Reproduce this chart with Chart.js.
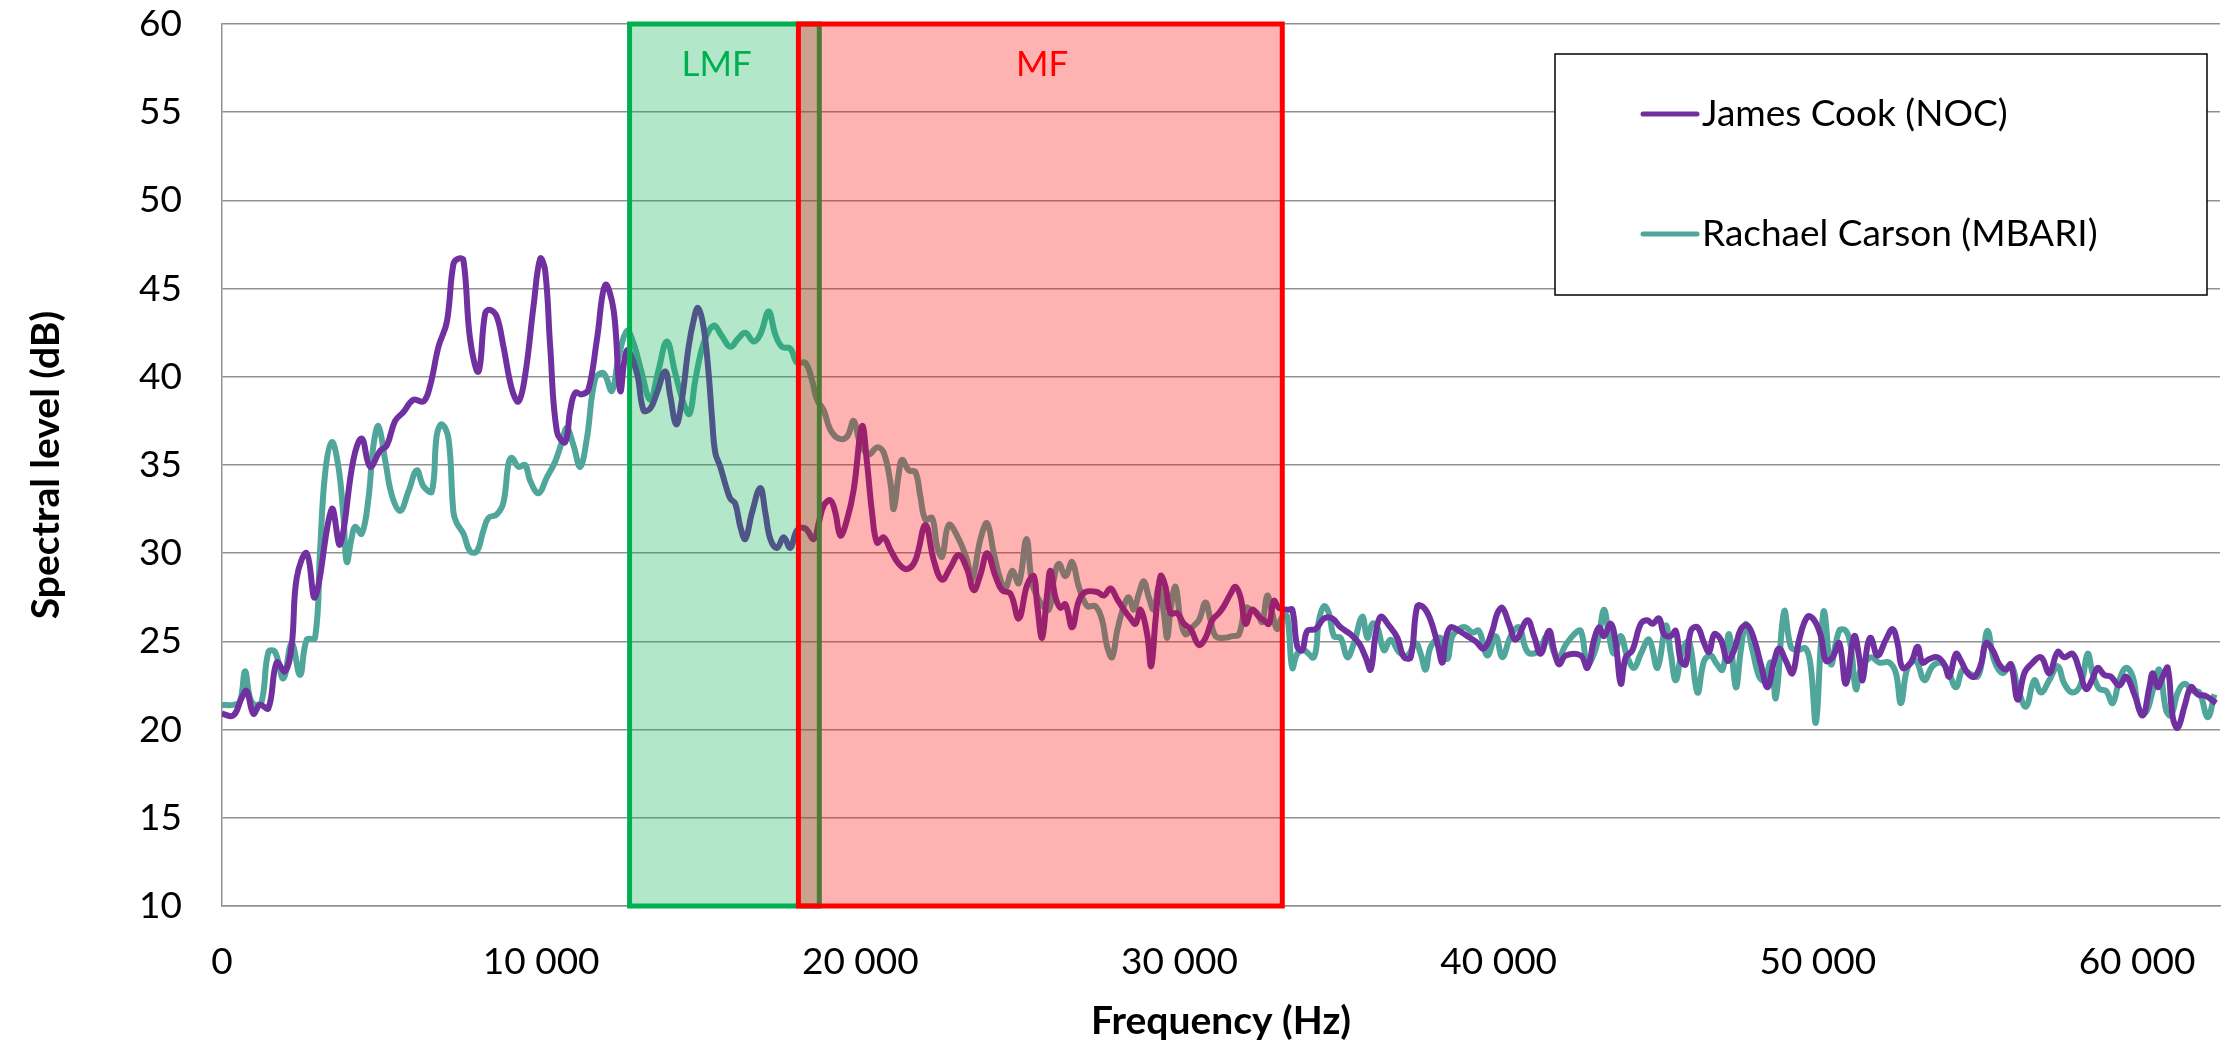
<!DOCTYPE html>
<html>
<head>
<meta charset="utf-8">
<script src="https://cdn.jsdelivr.net/npm/chart.js@4/dist/chart.umd.min.js"></script>
<style>
  html, body { margin: 0; padding: 0; background: #fff; }
  canvas { display: block; }
</style>
</head>
<body>
<canvas id="chart" width="2233" height="1051" style="width:2233px;height:1051px"></canvas>
<script>
// James Cook (NOC) spectrum
const jamesCookFreq = [
  0, 355, 617, 773, 982, 1191, 1453, 1714, 1975, 2184, 2341, 2654, 2916, 3438, 3699,
  4117, 4379, 4640, 4953, 5162, 5424, 5685, 5998, 6312, 6521, 6782, 7043, 7252, 7409, 7566,
  7775, 8036, 8245, 8402, 8611, 8820, 9081, 9290, 9499, 9760, 9969, 10126, 10283, 10492, 10753,
  10910, 11067, 11276, 11485, 11746, 12007, 12268, 12477, 12686, 13000, 13209, 13418, 13627, 13888, 14045,
  14233, 14410, 14619, 14776, 14912, 15090, 15246, 15351, 15455, 15612, 15821, 15926, 16082, 16239, 16396,
  16605, 16866, 17023, 17180, 17389, 17598, 17807, 18016, 18277, 18538, 18695, 18852, 19061, 19217, 19374,
  19583, 19792, 20053, 20210, 20367, 20524, 20733, 20942, 21203, 21464, 21725, 22039, 22300, 22561, 22823,
  23084, 23345, 23554, 23763, 23972, 24233, 24442, 24704, 24965, 25226, 25434, 25539, 25695, 25852, 25957,
  26113, 26270, 26427, 26636, 26845, 27054, 27420, 27629, 27838, 28047, 28256, 28465, 28621, 28778, 28987,
  29112, 29248, 29405, 29562, 29719, 29928, 30137, 30346, 30607, 30816, 31025, 31234, 31391, 31600, 31756,
  31913, 32070, 32279, 32488, 32645, 32801, 32958, 33115, 33376, 33533, 33690, 33846, 34003, 34264, 34526,
  34787, 35048, 35362, 35623, 35832, 35989, 36145, 36302, 36563, 36825, 37034, 37243, 37451, 37660, 37869,
  38079, 38235, 38338, 38495, 38756, 39018, 39279, 39540, 39801, 39958, 40115, 40324, 40533, 40899, 41108,
  41317, 41578, 41735, 41891, 42100, 42571, 42780, 42989, 43145, 43302, 43511, 43668, 43825, 43981, 44190,
  44452, 44661, 44817, 45026, 45183, 45392, 45549, 45706, 45862, 46019, 46228, 46437, 46594, 46751, 46960,
  47169, 47378, 47587, 47796, 48005, 48214, 48423, 48632, 48788, 48997, 49206, 49415, 49677, 49886, 50095,
  50251, 50460, 50669, 50878, 51139, 51296, 51400, 51557, 51662, 51871, 52132, 52341, 52498, 52654, 52916,
  53125, 53281, 53490, 53751, 53960, 54117, 54326, 54483, 54692, 54901, 55110, 55267, 55476, 55685, 55894,
  56051, 56260, 56469, 56678, 56991, 57252, 57514, 57723, 57982, 58193, 58402, 58611, 58768, 58977, 59186,
  59447, 59656, 59917, 60178, 60387, 60492, 60649, 60805, 60962, 61119, 61276, 61485, 61694, 61903, 62164,
  62477
];
const jamesCookLevel = [
  20.9, 20.8, 21.8, 22.2, 20.9, 21.4, 21.2, 23.8, 23.3, 24.8, 28.6, 30.0, 27.5, 32.5, 30.5,
  35.3, 36.5, 34.9, 35.8, 36.1, 37.5, 38.0, 38.7, 38.6, 39.5, 41.7, 43.1, 46.4, 46.7, 46.6,
  42.1, 40.3, 43.6, 43.8, 43.4, 41.7, 39.3, 38.6, 40.1, 44.0, 46.7, 46.0, 41.7, 36.9, 36.3,
  38.1, 39.1, 39.0, 39.3, 42.1, 45.2, 43.8, 39.2, 41.5, 40.2, 38.1, 38.2, 39.1, 40.3, 38.9,
  37.3, 38.7, 41.7, 43.2, 43.9, 42.8, 40.2, 37.7, 35.7, 34.9, 33.6, 33.1, 32.8, 31.5, 30.8,
  32.3, 33.7, 32.3, 30.8, 30.3, 30.9, 30.3, 31.3, 31.4, 30.8, 31.7, 32.7, 33.0, 32.3, 31.0,
  31.9, 33.6, 37.2, 35.1, 32.3, 30.6, 30.9, 30.2, 29.4, 29.1, 29.6, 31.6, 29.6, 28.5, 29.2,
  29.9, 29.1, 27.9, 28.8, 30.0, 28.7, 27.9, 27.7, 26.3, 28.2, 28.7, 27.1, 25.2, 27.7, 29.0,
  27.5, 26.9, 27.1, 25.8, 27.3, 27.8, 27.8, 27.6, 28.0, 27.4, 26.8, 26.3, 26.0, 26.8, 25.4,
  23.6, 26.2, 28.7, 28.1, 26.6, 26.6, 26.0, 25.7, 24.8, 25.2, 26.2, 26.6, 27.0, 27.7, 28.1,
  27.5, 26.0, 26.8, 26.4, 26.2, 26.0, 27.3, 26.9, 26.8, 26.8, 24.7, 24.5, 25.6, 25.7, 26.3,
  26.3, 25.8, 25.4, 24.9, 24.1, 23.4, 25.4, 26.4, 25.9, 25.2, 24.1, 24.1, 27.0, 26.9, 26.2,
  24.9, 23.8, 25.1, 25.8, 25.6, 25.3, 25.0, 24.6, 25.6, 26.6, 26.9, 26.0, 25.1, 26.2, 25.3,
  24.3, 25.6, 24.5, 23.7, 24.2, 24.2, 23.5, 25.1, 25.8, 25.3, 26.0, 24.9, 22.6, 24.1, 24.5,
  26.0, 26.2, 26.0, 26.3, 25.4, 25.3, 25.6, 23.9, 23.7, 25.6, 25.8, 24.9, 24.4, 25.4, 25.1,
  23.9, 24.5, 25.7, 25.9, 25.1, 23.7, 22.4, 23.9, 24.6, 23.9, 23.2, 25.1, 26.4, 26.2, 25.3,
  23.9, 24.1, 24.9, 22.6, 25.3, 24.1, 22.8, 24.8, 25.2, 24.2, 25.1, 25.7, 24.9, 23.5, 23.8,
  24.7, 23.8, 24.0, 24.1, 23.7, 23.0, 24.3, 23.9, 23.2, 23.0, 23.7, 24.9, 24.5, 23.7, 23.4,
  23.7, 21.7, 23.2, 23.7, 24.1, 23.2, 24.4, 24.1, 24.3, 23.4, 22.3, 22.9, 23.5, 23.1, 23.0,
  22.5, 23.0, 22.0, 20.8, 22.4, 23.2, 22.4, 23.0, 23.5, 20.7, 20.1, 21.3, 22.4, 22.0, 21.9,
  21.5
];

// Rachael Carson (MBARI) spectrum
const rachaelCarsonFreq = [
  0, 355, 564, 721, 878, 1035, 1244, 1453, 1662, 1923, 2184, 2445, 2654, 2916, 3072,
  3229, 3438, 3647, 3804, 3908, 4065, 4170, 4379, 4588, 4744, 4901, 5110, 5319, 5580, 5842,
  6103, 6312, 6573, 6730, 6887, 7096, 7252, 7357, 7566, 7775, 7984, 8193, 8350, 8611, 8820,
  8977, 9081, 9290, 9499, 9656, 9917, 10178, 10440, 10649, 10805, 11014, 11223, 11432, 11694, 11955,
  12216, 12425, 12686, 12895, 13156, 13418, 13679, 13940, 14201, 14463, 14651, 14828, 15090, 15403, 15664,
  15926, 16187, 16396, 16657, 16866, 17127, 17336, 17545, 17807, 18016, 18277, 18486, 18643, 18852, 19061,
  19322, 19583, 19792, 20001, 20262, 20524, 20733, 20942, 21046, 21203, 21307, 21516, 21725, 21882, 22039,
  22248, 22405, 22561, 22770, 23084, 23345, 23502, 23763, 23972, 24181, 24390, 24547, 24756, 24965, 25205,
  25383, 25644, 25905, 26061, 26218, 26427, 26636, 26845, 27106, 27367, 27576, 27733, 27890, 28047, 28256,
  28412, 28569, 28726, 28883, 29039, 29196, 29353, 29510, 29614, 29719, 29876, 30032, 30189, 30398, 30607,
  30816, 30973, 31129, 31391, 31652, 31861, 32070, 32227, 32436, 32592, 32749, 32906, 33063, 33219, 33376,
  33533, 33690, 33899, 34212, 34369, 34526, 34682, 34839, 35048, 35257, 35466, 35727, 35884, 36041, 36198,
  36407, 36616, 36877, 37138, 37399, 37556, 37713, 37869, 38183, 38391, 38547, 38756, 38965, 39174, 39383,
  39645, 39906, 40115, 40376, 40637, 40846, 41003, 41264, 41526, 41839, 42100, 42362, 42571, 42780, 42989,
  43145, 43302, 43459, 43616, 43825, 44034, 44243, 44452, 44713, 44974, 45235, 45392, 45549, 45758, 45967,
  46228, 46437, 46646, 46803, 47012, 47221, 47430, 47587, 47743, 47952, 48161, 48318, 48527, 48684, 48945,
  49154, 49363, 49624, 49781, 49938, 50095, 50199, 50408, 50669, 50878, 51035, 51191, 51348, 51662, 51923,
  52236, 52445, 52602, 52811, 53072, 53334, 53595, 53856, 54065, 54326, 54535, 54744, 55006, 55162, 55319,
  55528, 55789, 56051, 56260, 56521, 56782, 56991, 57252, 57514, 57723, 57984, 58245, 58454, 58611, 58820,
  59029, 59238, 59447, 59656, 59865, 60074, 60283, 60492, 60701, 60910, 61067, 61276, 61485, 61746, 61955,
  62216, 62425
];
const rachaelCarsonLevel = [
  21.4, 21.4, 21.6, 23.3, 21.8, 21.4, 21.6, 24.4, 24.4, 22.9, 24.9, 23.1, 25.1, 25.2, 30.1,
  34.5, 36.3, 34.9, 32.1, 29.5, 30.9, 31.5, 31.1, 33.1, 36.1, 37.2, 35.3, 33.3, 32.4, 33.5,
  34.7, 33.8, 33.5, 36.7, 37.3, 36.5, 32.3, 31.7, 31.1, 30.1, 30.1, 31.3, 32.0, 32.2, 32.9,
  35.1, 35.4, 34.9, 35.0, 34.1, 33.4, 34.3, 35.2, 36.3, 37.1, 36.1, 34.9, 36.5, 39.9, 40.2,
  39.2, 41.1, 42.6, 41.9, 40.2, 38.7, 40.4, 42.0, 40.2, 38.5, 37.9, 39.8, 41.9, 42.9, 42.3,
  41.7, 42.2, 42.5, 42.0, 42.4, 43.7, 42.4, 41.7, 41.6, 40.8, 40.8, 39.8, 38.7, 38.1, 37.0,
  36.5, 36.6, 37.5, 36.2, 35.6, 36.0, 35.7, 34.0, 32.5, 34.5, 35.3, 34.7, 34.6, 33.2, 31.9,
  32.0, 30.4, 29.8, 31.6, 30.8, 29.6, 28.5, 30.8, 31.7, 30.0, 28.5, 28.0, 29.0, 28.3, 30.8,
  28.3, 27.2, 26.8, 28.5, 29.4, 28.7, 29.5, 28.1, 27.0, 27.0, 26.2, 24.7, 24.1, 25.6, 27.0,
  27.5, 26.8, 27.7, 28.4, 27.5, 26.8, 28.1, 26.6, 25.2, 26.8, 28.1, 26.2, 25.4, 25.8, 26.2,
  27.2, 26.2, 25.3, 25.2, 25.3, 25.4, 26.9, 26.8, 26.6, 26.1, 27.6, 26.6, 25.7, 26.4, 26.4,
  23.5, 24.3, 24.5, 24.1, 26.2, 27.0, 26.6, 25.3, 25.2, 24.1, 24.9, 26.4, 25.2, 26.0, 25.8,
  24.5, 25.1, 24.4, 24.2, 24.9, 24.3, 23.4, 24.7, 25.2, 24.0, 25.3, 25.7, 25.8, 25.5, 25.6,
  24.2, 25.3, 24.1, 25.3, 25.8, 24.6, 24.3, 24.5, 25.3, 24.0, 24.8, 25.4, 25.6, 23.7, 24.3,
  25.4, 26.8, 25.3, 24.3, 25.3, 24.1, 23.5, 24.3, 25.1, 23.5, 25.9, 24.3, 22.8, 24.5, 25.0,
  22.1, 23.9, 24.2, 23.8, 23.4, 25.4, 22.4, 24.5, 26.0, 24.5, 23.0, 22.8, 23.8, 21.8, 26.7,
  24.7, 24.5, 24.6, 23.5, 20.4, 24.9, 26.7, 23.7, 25.6, 25.6, 24.7, 22.3, 23.4, 24.1, 23.8,
  23.8, 23.2, 21.5, 23.5, 23.9, 22.8, 23.6, 23.8, 23.4, 22.4, 23.4, 23.2, 23.0, 24.1, 25.6,
  23.9, 23.2, 23.7, 22.4, 21.3, 22.8, 22.1, 22.8, 23.6, 22.6, 22.1, 22.6, 24.3, 23.2, 22.3,
  22.2, 21.5, 22.8, 23.5, 23.0, 21.1, 21.0, 22.2, 23.4, 21.1, 20.8, 22.1, 22.6, 22.2, 22.1,
  20.7, 22.0
];

// hearing bands drawn as boxes over the lines
const bandNames = ['LMF', 'MF'];
const bandStart = [12770, 18060];
const bandEnd = [18715, 33220];
const bandLabelAt = [15500, 25700];

const xTicks = [0, 10000, 20000, 30000, 40000, 50000, 60000];
const yTicks = [10, 15, 20, 25, 30, 35, 40, 45, 50, 55, 60];

const colors = {
  purple: '#7030a0',
  teal: '#50a69a',
  grid: '#919191',
  green: '#00b050',
  greenFill: 'rgba(0, 176, 80, 0.3)',
  red: '#ff0000',
  redFill: 'rgba(255, 0, 0, 0.3)'
};
const font = 'Lato';

function spaced(v) {
  return String(v).replace(/\B(?=(\d{3})+(?!\d))/g, ' ');
}

const bandPlugin = {
  id: 'bands',
  afterDatasetsDraw(chart) {
    const { ctx, scales: { x, y } } = chart;
    const fills = [colors.greenFill, colors.redFill];
    const strokes = [colors.green, colors.red];
    const top = y.getPixelForValue(60);
    const bottom = y.getPixelForValue(10);
    ctx.save();
    bandNames.forEach((name, i) => {
      const left = x.getPixelForValue(bandStart[i]);
      const right = x.getPixelForValue(bandEnd[i]);
      ctx.fillStyle = fills[i];
      ctx.fillRect(left, top, right - left, bottom - top);
      ctx.strokeStyle = strokes[i];
      ctx.lineWidth = 5;
      ctx.strokeRect(left, top, right - left, bottom - top);
    });
    ctx.font = `35px ${font}`;
    ctx.textAlign = 'center';
    ctx.textBaseline = 'middle';
    bandNames.forEach((name, i) => {
      ctx.fillStyle = strokes[i];
      ctx.fillText(name, x.getPixelForValue(bandLabelAt[i]), y.getPixelForValue(57.7));
    });
    ctx.restore();
  }
};

const legendPlugin = {
  id: 'boxLegend',
  afterDraw(chart) {
    const { ctx, chartArea } = chart;
    const right = chartArea.right - 13;
    const left = right - 652;
    const top = chartArea.top + 30;
    const height = 241;
    ctx.save();
    ctx.fillStyle = '#fff';
    ctx.fillRect(left, top, right - left, height);
    ctx.strokeStyle = '#000';
    ctx.lineWidth = 1.5;
    ctx.strokeRect(left, top, right - left, height);
    ctx.font = `37px ${font}`;
    ctx.textBaseline = 'middle';
    ctx.textAlign = 'left';
    const rows = [top + 60, top + 180];
    chart.data.datasets.forEach((ds, i) => {
      ctx.strokeStyle = ds.borderColor;
      ctx.lineWidth = 5;
      ctx.lineCap = 'round';
      ctx.beginPath();
      ctx.moveTo(left + 88, rows[i]);
      ctx.lineTo(left + 142, rows[i]);
      ctx.stroke();
      ctx.fillStyle = '#000';
      ctx.fillText(ds.label, left + 147, rows[i]);
    });
    ctx.restore();
  }
};

function series(freq, level) {
  return freq.map((f, i) => ({ x: f, y: level[i] }));
}

new Chart(document.getElementById('chart'), {
  type: 'line',
  data: {
    datasets: [
      {
        label: 'James Cook (NOC)',
        data: series(jamesCookFreq, jamesCookLevel),
        borderColor: colors.purple,
        borderWidth: 6,
        pointRadius: 0,
        tension: 0.4,
        fill: false
      },
      {
        label: 'Rachael Carson (MBARI)',
        data: series(rachaelCarsonFreq, rachaelCarsonLevel),
        borderColor: colors.teal,
        borderWidth: 6,
        pointRadius: 0,
        tension: 0.4,
        fill: false
      }
    ]
  },
  options: {
    responsive: false,
    animation: false,
    devicePixelRatio: 1,
    layout: { padding: { top: 24, right: 13, left: 0, bottom: 0 } },
    plugins: {
      legend: { display: false },
      tooltip: { enabled: false }
    },
    scales: {
      x: {
        type: 'linear',
        min: 0,
        max: 62600,
        afterBuildTicks: s => { s.ticks = xTicks.map(v => ({ value: v })); },
        ticks: {
          autoSkip: false,
          maxRotation: 0,
          padding: 34,
          color: '#000',
          font: { family: font, size: 37 },
          callback: v => spaced(v)
        },
        grid: { display: false, drawTicks: false },
        border: { display: true, color: colors.grid, width: 1.5 },
        title: {
          display: true,
          text: 'Frequency (Hz)',
          color: '#000',
          font: { family: font, size: 39, weight: 'bold' },
          padding: { top: 0, bottom: 6 }
        },
        afterFit: s => { s.height = 145; }
      },
      y: {
        min: 10,
        max: 60,
        afterBuildTicks: s => { s.ticks = yTicks.map(v => ({ value: v })); },
        ticks: {
          autoSkip: false,
          padding: 40,
          color: '#000',
          font: { family: font, size: 37 }
        },
        grid: { color: colors.grid, lineWidth: 1.5, drawTicks: false },
        border: { display: true, color: colors.grid, width: 1.5 },
        title: {
          display: true,
          text: 'Spectral level (dB)',
          color: '#000',
          font: { family: font, size: 39, weight: 'bold' },
          padding: { top: 23, bottom: 0 }
        },
        afterFit: s => {
          s.width = 222;
          s.paddingTop = 0;
          s.paddingBottom = 0;
        }
      }
    }
  },
  plugins: [bandPlugin, legendPlugin]
});
</script>
</body>
</html>
